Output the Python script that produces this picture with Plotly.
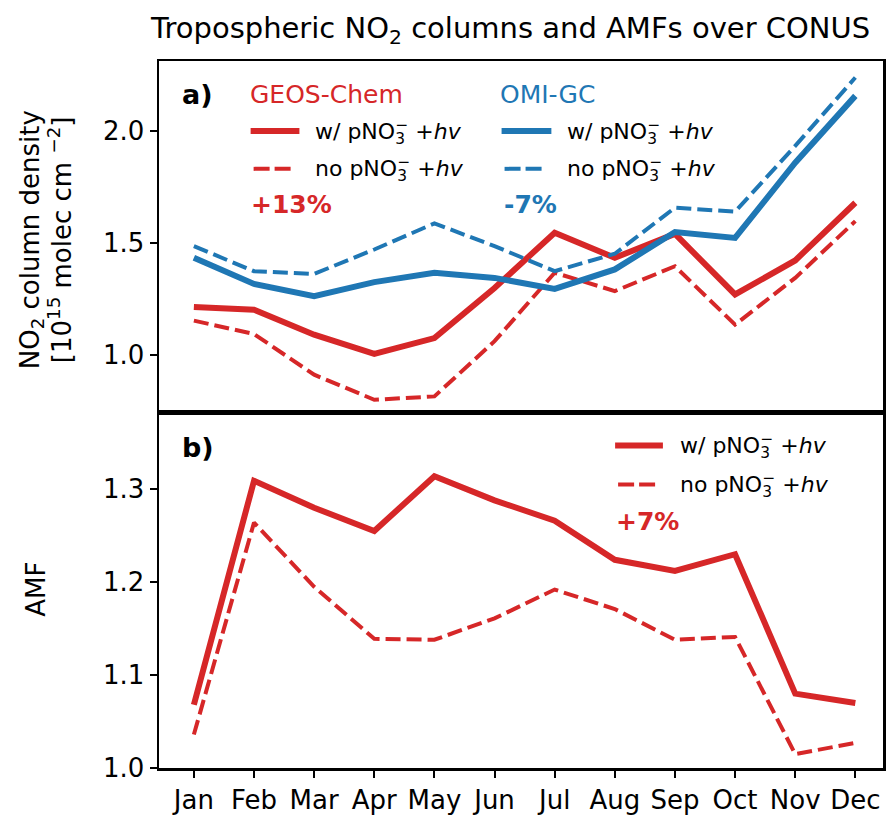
import plotly.graph_objects as go
from plotly.subplots import make_subplots

months = ["Jan", "Feb", "Mar", "Apr", "May", "Jun", "Jul", "Aug", "Sep", "Oct", "Nov", "Dec"]

gc_with = [1.213, 1.201, 1.089, 1.003, 1.074, 1.298, 1.545, 1.433, 1.540, 1.269, 1.421, 1.679]
gc_no = [1.152, 1.092, 0.910, 0.798, 0.813, 1.060, 1.366, 1.284, 1.395, 1.134, 1.343, 1.597]
omi_with = [1.433, 1.316, 1.261, 1.324, 1.366, 1.343, 1.294, 1.381, 1.548, 1.522, 1.858, 2.157]
omi_no = [1.485, 1.373, 1.361, 1.470, 1.587, 1.485, 1.373, 1.451, 1.657, 1.639, 1.933, 2.239]

amf_with = [1.068, 1.309, 1.280, 1.255, 1.314, 1.288, 1.266, 1.224, 1.212, 1.230, 1.080, 1.070]
amf_no = [1.036, 1.264, 1.195, 1.139, 1.138, 1.161, 1.192, 1.171, 1.138, 1.141, 1.015, 1.027]

top_ticks = [1.0, 1.5, 2.0]
top_ticktext = ["1.0", "1.5", "2.0"]
bot_ticks = [1.0, 1.1, 1.2, 1.3]
bot_ticktext = ["1.0", "1.1", "1.2", "1.3"]

RED = "#d62728"
BLUE = "#1f77b4"
FONT = "DejaVu Sans"

W, H = 887, 816
# plot-area edges in page pixels
L, R, T, B = 159, 886, 61, 769


def px(x):
    return (x - L) / (R - L)


def py(y):
    return (B - y) / (B - T)


split = py(413)

fig = make_subplots(rows=2, cols=1, shared_xaxes=False, vertical_spacing=0)
xidx = list(range(12))
DASH = "15px,6px"
SW, DW = 6, 4

fig.add_trace(go.Scatter(x=xidx, y=gc_with, mode="lines", line=dict(color=RED, width=SW)), row=1, col=1)
fig.add_trace(go.Scatter(x=xidx, y=gc_no, mode="lines", line=dict(color=RED, width=DW, dash=DASH)), row=1, col=1)
fig.add_trace(go.Scatter(x=xidx, y=omi_with, mode="lines", line=dict(color=BLUE, width=SW)), row=1, col=1)
fig.add_trace(go.Scatter(x=xidx, y=omi_no, mode="lines", line=dict(color=BLUE, width=DW, dash=DASH)), row=1, col=1)
fig.add_trace(go.Scatter(x=xidx, y=amf_with, mode="lines", line=dict(color=RED, width=SW)), row=2, col=1)
fig.add_trace(go.Scatter(x=xidx, y=amf_no, mode="lines", line=dict(color=RED, width=DW, dash=DASH)), row=2, col=1)

axis_common = dict(showline=True, linecolor="black", linewidth=2.5, mirror=True,
                   showgrid=False, zeroline=False, ticks="outside", ticklen=7, tickwidth=2,
                   tickcolor="black", tickfont=dict(family=FONT, size=26, color="black"))

fig.update_xaxes(range=[-0.58, 11.46], **axis_common)
fig.update_xaxes(showticklabels=False, ticks="", row=1, col=1)
fig.update_xaxes(tickmode="array", tickvals=xidx, ticktext=months, row=2, col=1)
fig.update_yaxes(**axis_common)
fig.update_yaxes(range=[0.741, 2.313], tickvals=top_ticks, ticktext=top_ticktext, row=1, col=1)
fig.update_yaxes(range=[1.0, 1.3825], tickvals=bot_ticks, ticktext=bot_ticktext, row=2, col=1)

fig.update_layout(
    width=W, height=H,
    margin=dict(l=L, r=W - R, t=T, b=H - B),
    plot_bgcolor="white", paper_bgcolor="white",
    showlegend=False,
    hovermode=False,
    yaxis=dict(domain=[split, 1]),
    yaxis2=dict(domain=[0, split]),
    font=dict(family=FONT, color="black"),
)

ann = []


def text(x, y, s, size=22, color="black", bold=False, xanchor="left", angle=0):
    if bold:
        s = "<b>" + s + "</b>"
    ann.append(dict(x=px(x), y=py(y), xref="paper", yref="paper", text=s, showarrow=False,
                    xanchor=xanchor, yanchor="middle", textangle=angle,
                    font=dict(family=FONT, size=size, color=color)))


shapes = []


def seg(x0, x1, y, color, width, dash):
    shapes.append(dict(type="line", xref="paper", yref="paper", x0=px(x0), x1=px(x1),
                       y0=py(y), y1=py(y), line=dict(color=color, width=width, dash=dash)))


ion = "pNO<sub><span style='letter-spacing:-0.62em'>3</span></sub><sup>−</sup> +<i>hv</i>"
lab_with = "w/ " + ion
lab_no = "no " + ion

# title
text(511, 30, "Tropospheric NO<sub>2</sub> columns and AMFs over CONUS", size=29, xanchor="center")

# panel a
text(180, 95, "a)", size=27, bold=True)
text(248, 95, "GEOS-Chem", size=25, color=RED)
text(499, 95, "OMI-GC", size=25, color=BLUE)
seg(251, 300, 131, RED, SW, "solid")
seg(254, 293, 169, RED, DW, "16px,5px")
seg(503, 553, 131, BLUE, SW, "solid")
seg(506, 546, 169, BLUE, DW, "16px,5px")
text(314, 132, lab_with)
text(314, 169, lab_no)
text(567, 132, lab_with)
text(567, 169, lab_no)
text(249, 205, "+13%", size=25, color=RED, bold=True)
text(503, 205, "-7%", size=25, color=BLUE, bold=True)

# panel b
text(180, 448, "b)", size=27, bold=True)
seg(617, 665, 446, RED, SW, "solid")
seg(620, 659, 485, RED, DW, "16px,5px")
text(680, 447, lab_with)
text(680, 486, lab_no)
text(616, 522, "+7%", size=25, color=RED, bold=True)

# y titles
text(31, 240, "NO<sub>2</sub> column density", size=26, xanchor="center", angle=-90)
text(59, 240, "[10<sup>15</sup> molec cm <sup>−2</sup>]", size=26, xanchor="center", angle=-90)
text(36, 590, "AMF", size=26, xanchor="center", angle=-90)

fig.update_layout(annotations=ann, shapes=shapes)

fig.write_html("out.html", config={"displayModeBar": False, "staticPlot": True},
               post_script="document.body.style.margin='0';")
